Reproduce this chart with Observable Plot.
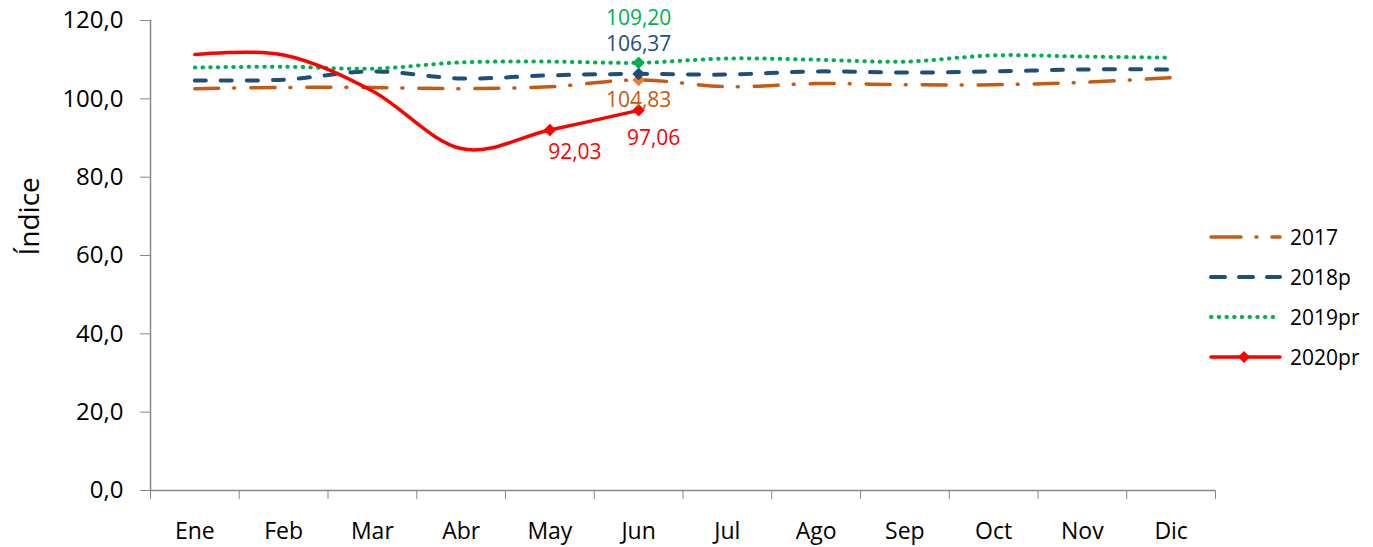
<!DOCTYPE html>
<html><head><meta charset="utf-8">
<script src="https://cdn.jsdelivr.net/npm/d3@7"></script>
<script src="https://cdn.jsdelivr.net/npm/@observablehq/plot@0.6"></script>
<style>
body{margin:0;background:#fff;font-family:"Open Sans",sans-serif;}
#wrap{position:relative;width:1373px;height:547px;}
#legend{position:absolute;left:1208px;top:217px;font-size:21px;color:#000;}
#legend .row{display:flex;align-items:center;height:40px;}
#legend svg{margin-right:8px;}
</style></head>
<body><div id="wrap"><div id="chart"></div><div id="legend"></div></div>
<script>
const months = ["Ene","Feb","Mar","Abr","May","Jun","Jul","Ago","Sep","Oct","Nov","Dic"];
const yTicks = [0,20,40,60,80,100,120];
const v2017 = [102.6,102.9,102.9,102.6,103.1,104.83,103.1,103.9,103.6,103.6,104.2,105.4];
const v2018 = [104.7,104.9,107.0,105.2,106.0,106.37,106.2,107.0,106.7,107.0,107.5,107.5];
const v2019 = [108.0,108.2,107.7,109.3,109.5,109.20,110.3,110.0,109.5,111.1,110.8,110.5];
const v2020 = [111.3,111.2,102.0,87.3,92.03,97.06];
const seriesNames = ["2017","2018p","2019pr","2020pr"];
const colors = ["#C55A11","#1F4E79","#00B050","#FF0000"];
const dashes = ["24,15,1,16","11,15","0.5,7.2",null];
const widths = [3.5,4,4,3.5];

const allVals = [v2017,v2018,v2019,v2020];
const rows = allVals.map((vals,s)=>vals.map((v,i)=>({s, i, x:i+0.5, v})));
const fmt = v => v.toFixed(2).replace(".", ",");

const markers = [
  {x:5.5, v:v2017[5], c:"#ED7D31"},
  {x:5.5, v:v2018[5], c:colors[1]},
  {x:5.5, v:v2019[5], c:colors[2]},
  {x:4.5, v:v2020[4], c:colors[3]},
  {x:5.5, v:v2020[5], c:colors[3]}
];
const labels = [
  {x:5.5, v:v2019[5], c:colors[2], dx:0, dy:-45},
  {x:5.5, v:v2018[5], c:colors[1], dx:0, dy:-30},
  {x:5.5, v:v2017[5], c:"#C55A11", dx:0, dy:20},
  {x:5.5, v:v2020[5], c:colors[3], dx:15, dy:28},
  {x:4.5, v:v2020[4], c:colors[3], dx:25, dy:22}
];

const lineMarks = rows.map((r,s)=>Plot.line(r,{x:"x", y:"v", stroke:colors[s], strokeWidth:widths[s],
  strokeDasharray:dashes[s], strokeLinecap:"round", curve:"cardinal"}));

const chart = Plot.plot({
  width:1373, height:547,
  marginLeft:150, marginRight:158, marginTop:20, marginBottom:57,
  style:{fontFamily:"Open Sans, sans-serif", background:"#fff"},
  x:{type:"linear", domain:[0,12]},
  y:{domain:[0,120]},
  marks:[
    Plot.axisY({ticks:yTicks, tickFormat:d=>d.toFixed(1).replace(".", ","), tickSize:10, tickPadding:17, fontSize:24, color:"#000", stroke:"#888", label:null}),
    Plot.axisX({ticks:d3.range(13), tickFormat:()=>"", tickSize:9, stroke:"#888", label:null}),
    Plot.axisX({ticks:months.map((m,i)=>i+0.5), tickFormat:d=>months[Math.floor(d)], tickSize:0, tickPadding:32, fontSize:23, color:"#000", label:null}),
    Plot.ruleX([0],{stroke:"#888", strokeWidth:1.5}),
    Plot.ruleY([0],{stroke:"#888", strokeWidth:1.5}),
    Plot.text(["Índice"],{frameAnchor:"left", rotate:-90, dx:-120, fontSize:28, fill:"#000"}),
    ...lineMarks,
    Plot.dot(markers,{x:"x", y:"v", fill:d=>d.c, symbol:"square", rotate:45, r:5}),
    ...labels.map(l=>Plot.text([l],{x:"x", y:"v", text:d=>fmt(d.v), fill:l.c, dx:l.dx, dy:l.dy, fontSize:21}))
  ]
});
document.getElementById("chart").appendChild(chart);

const leg = document.getElementById("legend");
seriesNames.forEach((n,s)=>{
  const row = document.createElement("div"); row.className="row";
  const dash = dashes[s] ? `stroke-dasharray="${s===0?"30,15,1,15":s===1?"14,14":"0.5,7.2"}"` : "";
  const marker = s===3 ? `<path d="M36,4 L42,10 L36,16 L30,10Z" fill="#FF0000"/>` : "";
  row.innerHTML = `<svg width="74" height="20"><line x1="3" x2="72" y1="10" y2="10" stroke="${colors[s]}" stroke-width="${widths[s]}" stroke-linecap="round" ${dash}/>${marker}</svg><span>${n}</span>`;
  leg.appendChild(row);
});
</script></body></html>
